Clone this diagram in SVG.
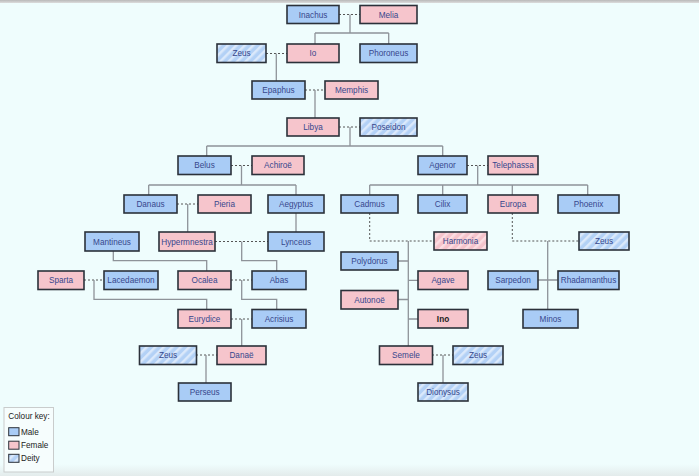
<svg xmlns="http://www.w3.org/2000/svg" width="699" height="476" viewBox="0 0 699 476">
<defs>
<pattern id="hatchM" patternUnits="userSpaceOnUse" width="6" height="6" patternTransform="rotate(45)">
<rect width="6" height="6" fill="#b3d1f6"/>
<rect width="2.5" height="6" fill="#dbe9fb"/>
</pattern>
<pattern id="hatchF" patternUnits="userSpaceOnUse" width="6" height="6" patternTransform="rotate(45)">
<rect width="6" height="6" fill="#f5c3cb"/>
<rect width="2.5" height="6" fill="#fbdde2"/>
</pattern>
<linearGradient id="topbar" x1="0" y1="0" x2="0" y2="1">
<stop offset="0" stop-color="#b9b9b9"/>
<stop offset="1" stop-color="#dcdcdc"/>
</linearGradient>
<linearGradient id="botfade" x1="0" y1="0" x2="0" y2="1">
<stop offset="0" stop-color="#effdfd"/>
<stop offset="1" stop-color="#e3ebeb"/>
</linearGradient>
</defs>
<style>
.n rect{stroke:#2b313a;stroke-width:1.6}
.m rect{fill:#a9ccf6}
.f rect{fill:#f6c5cc}
.dm rect{fill:url(#hatchM)}
.df rect{fill:url(#hatchF)}
.n text{font-family:"Liberation Sans",Arial,sans-serif;font-size:8.2px;fill:#37478c;text-anchor:middle}
.b text{font-weight:bold;fill:#222}
.c{fill:none;stroke:#8e9399;stroke-width:1.3}
.d{fill:none;stroke:#555;stroke-width:1;stroke-dasharray:2 2}
.k{font-family:"Liberation Sans",Arial,sans-serif;font-size:8.2px;fill:#222}
</style>
<rect width="699" height="476" fill="#effdfd"/>
<rect x="0" y="464" width="699" height="12" fill="url(#botfade)"/>
<rect width="699" height="3" fill="url(#topbar)"/>

<g id="connectors">
<path class="d" d="M339,14.5H360 M266,53.5H287 M305,90H325 M339,127H360 M231,165.5H252 M467,165.5H488 M177,204H198 M215,241.5H268 M369.7,213V241H434 M512.3,213V241H579 M84,280H104 M231,280H252 M231,319H252 M196,355H217 M432,355H453"/>
<path class="c" d="M350,14.5V33 M315,33H388.7 M315,33V44 M388.7,33V44
M276.3,53.5V81
M315,90V118
M350,127V146 M206.7,146H442.7 M206.7,146V156 M442.7,146V156
M241.5,165.5V185 M148.7,185H296 M148.7,185V195 M296,185V195
M477.7,165.5V185 M369.7,185H587.7 M369.7,185V195 M442.7,185V195 M512.3,185V195 M587.7,185V195
M187.7,204V232 M296,213V232
M241.7,241.5V260.7H276.7V271
M113.3,251V260.7H206.7V271
M408.3,241V346 M398,261H408.3 M408.3,280.3H418 M398,299.5H408.3 M408.3,319H418
M547.7,241V309.5 M537.7,280H557.7
M94,280V299.3H206.7V309.5
M241.7,280V299.3H276.7V309.5
M241.7,319V346
M206,355V383
M443,355V383"/>
</g>

<g id="inachus" class="n m"><rect x="287" y="5.5" width="52" height="18"/><text x="313" y="17.5">Inachus</text></g>
<g id="melia" class="n f"><rect x="360" y="5.5" width="57" height="18"/><text x="388.5" y="17.5">Melia</text></g>

<g id="zeus1" class="n dm"><rect x="217" y="44" width="49" height="18.5"/><text x="241.5" y="56.2">Zeus</text></g>
<g id="io" class="n f"><rect x="287" y="44" width="52" height="18.5"/><text x="313" y="56.2">Io</text></g>
<g id="phoroneus" class="n m"><rect x="360" y="44" width="57" height="18.5"/><text x="388.5" y="56.2">Phoroneus</text></g>

<g id="epaphus" class="n m"><rect x="252" y="81" width="53" height="18"/><text x="278.5" y="93">Epaphus</text></g>
<g id="memphis" class="n f"><rect x="325" y="81" width="53" height="18"/><text x="351.5" y="93">Memphis</text></g>

<g id="libya" class="n f"><rect x="287" y="118" width="52" height="18"/><text x="313" y="130">Libya</text></g>
<g id="poseidon" class="n dm"><rect x="360" y="118" width="57" height="18"/><text x="388.5" y="130">Poseidon</text></g>

<g id="belus" class="n m"><rect x="178" y="156" width="53" height="18.5"/><text x="204.5" y="168.2">Belus</text></g>
<g id="achiroe" class="n f"><rect x="252" y="156" width="52" height="18.5"/><text x="278" y="168.2">Achiroë</text></g>
<g id="agenor" class="n m"><rect x="418" y="156" width="49" height="18.5"/><text x="442.5" y="168.2">Agenor</text></g>
<g id="telephassa" class="n f"><rect x="488" y="156" width="50" height="18.5"/><text x="513" y="168.2">Telephassa</text></g>

<g id="danaus" class="n m"><rect x="124" y="195" width="53" height="18"/><text x="150.5" y="207">Danaus</text></g>
<g id="pieria" class="n f"><rect x="198" y="195" width="53" height="18"/><text x="224.5" y="207">Pieria</text></g>
<g id="aegyptus" class="n m"><rect x="268" y="195" width="56" height="18"/><text x="296" y="207">Aegyptus</text></g>
<g id="cadmus" class="n m"><rect x="341" y="195" width="57" height="18"/><text x="369.5" y="207">Cadmus</text></g>
<g id="cilix" class="n m"><rect x="418" y="195" width="49" height="18"/><text x="442.5" y="207">Cilix</text></g>
<g id="europa" class="n f"><rect x="488" y="195" width="50" height="18"/><text x="513" y="207">Europa</text></g>
<g id="phoenix" class="n m"><rect x="558" y="195" width="61" height="18"/><text x="588.5" y="207">Phoenix</text></g>

<g id="mantineus" class="n m"><rect x="85" y="232" width="54" height="19"/><text x="112" y="244.5">Mantineus</text></g>
<g id="hypermnestra" class="n f"><rect x="159" y="232" width="56" height="19"/><text x="187" y="244.5">Hypermnestra</text></g>
<g id="lynceus" class="n m"><rect x="268" y="232" width="56" height="19"/><text x="296" y="244.5">Lynceus</text></g>
<g id="harmonia" class="n df"><rect x="434" y="232" width="53" height="18"/><text x="460.5" y="244">Harmonia</text></g>
<g id="zeus2" class="n dm"><rect x="579" y="232" width="50" height="18"/><text x="604" y="244">Zeus</text></g>

<g id="polydorus" class="n m"><rect x="341" y="252" width="57" height="18"/><text x="369.5" y="264">Polydorus</text></g>

<g id="sparta" class="n f"><rect x="38" y="271" width="46" height="18.5"/><text x="61" y="283.2">Sparta</text></g>
<g id="lacedaemon" class="n m"><rect x="104" y="271" width="54" height="18.5"/><text x="131" y="283.2">Lacedaemon</text></g>
<g id="ocalea" class="n f"><rect x="178" y="271" width="53" height="18.5"/><text x="204.5" y="283.2">Ocalea</text></g>
<g id="abas" class="n m"><rect x="252" y="271" width="54" height="18.5"/><text x="279" y="283.2">Abas</text></g>
<g id="agave" class="n f"><rect x="418" y="271" width="50" height="18.5"/><text x="443" y="283.2">Agave</text></g>
<g id="sarpedon" class="n m"><rect x="488" y="271" width="50" height="18.5"/><text x="513" y="283.2">Sarpedon</text></g>
<g id="rhadamanthus" class="n m"><rect x="558" y="271" width="61" height="18.5"/><text x="588.5" y="283.2">Rhadamanthus</text></g>

<g id="autonoe" class="n f"><rect x="341" y="290.5" width="57" height="18.5"/><text x="369.5" y="302.7">Autonoë</text></g>

<g id="eurydice" class="n f"><rect x="178" y="309.5" width="53" height="18.5"/><text x="204.5" y="321.7">Eurydice</text></g>
<g id="acrisius" class="n m"><rect x="252" y="309.5" width="54" height="18.5"/><text x="279" y="321.7">Acrisius</text></g>
<g id="ino" class="n f b"><rect x="418" y="309.5" width="50" height="18.5"/><text x="443" y="321.7">Ino</text></g>
<g id="minos" class="n m"><rect x="523" y="309.5" width="55" height="18.5"/><text x="550.5" y="321.7">Minos</text></g>

<g id="zeus3" class="n dm"><rect x="139.5" y="346" width="57" height="18.5"/><text x="168" y="358.2">Zeus</text></g>
<g id="danae" class="n f"><rect x="217" y="346" width="49" height="18.5"/><text x="241.5" y="358.2">Danaë</text></g>
<g id="semele" class="n f"><rect x="379.5" y="346" width="53" height="18.5"/><text x="406" y="358.2">Semele</text></g>
<g id="zeus4" class="n dm"><rect x="453" y="346" width="50" height="18.5"/><text x="478" y="358.2">Zeus</text></g>

<g id="perseus" class="n m"><rect x="178.5" y="383" width="52.5" height="18"/><text x="204.7" y="395">Perseus</text></g>
<g id="dionysus" class="n dm"><rect x="418" y="383" width="50" height="18"/><text x="443" y="395">Dionysus</text></g>

<g id="legend">
<rect x="4" y="407.5" width="49.5" height="64.5" fill="#f6fdfd" stroke="#c9cccc" stroke-width="1"/>
<text class="k" x="8.3" y="418.5">Colour key:</text>
<rect x="8.7" y="427.7" width="10.3" height="8" fill="#a9ccf6" stroke="#2b313a" stroke-width="1"/>
<text class="k" x="21" y="434.8">Male</text>
<rect x="8.7" y="441.2" width="10.3" height="8" fill="#f6c5cc" stroke="#2b313a" stroke-width="1"/>
<text class="k" x="21" y="448.3">Female</text>
<rect x="8.7" y="454.3" width="10.3" height="8" fill="url(#hatchM)" stroke="#2b313a" stroke-width="1"/>
<text class="k" x="21" y="461.4">Deity</text>
</g>
</svg>
